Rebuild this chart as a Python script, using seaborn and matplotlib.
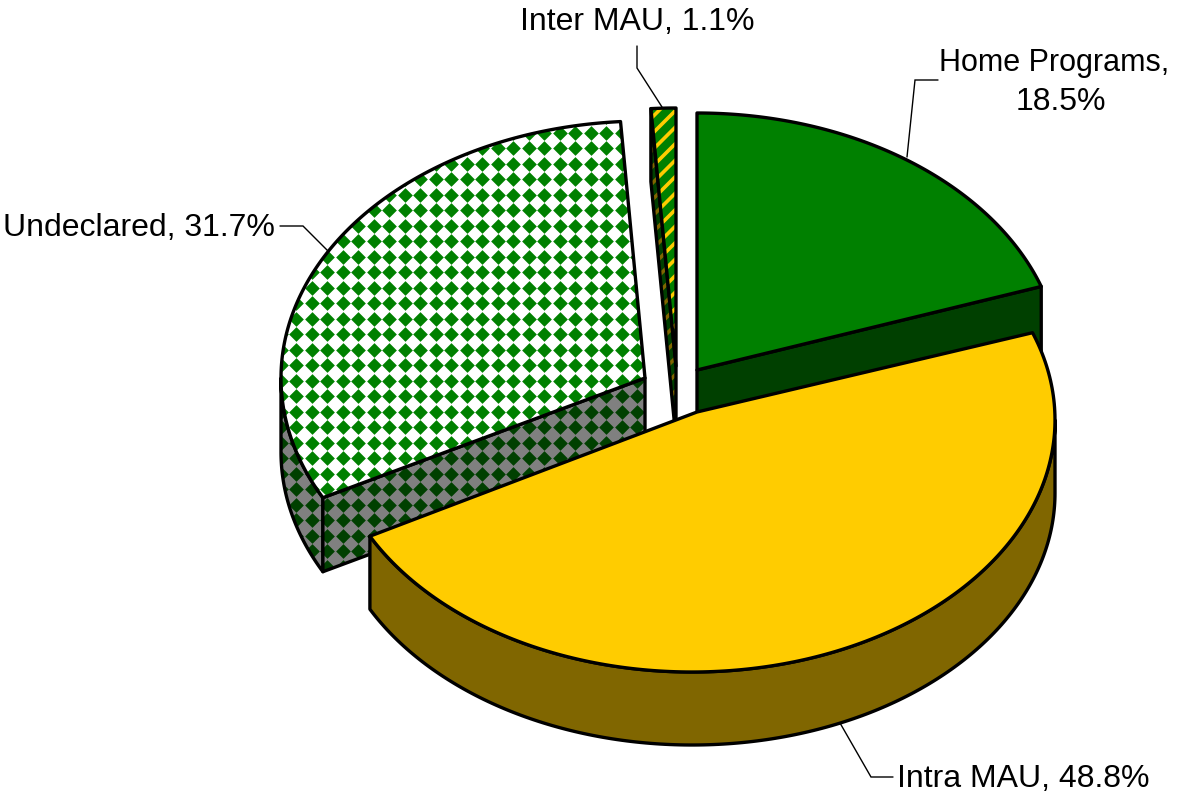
import numpy as np
import matplotlib
matplotlib.use("Agg")
import matplotlib.pyplot as plt
from matplotlib.collections import LineCollection
import seaborn as sns

# ---- data ----
categories = ["Home Programs", "Intra MAU", "Undeclared", "Inter MAU"]
shares = [18.5, 48.8, 31.7, 1.1]

# ---- style / layout (pixels of the 1183x794 canvas) ----
W, H = 1183, 794
top_colors = ["#008000", "#FFCC00", "#FFFFFF", "#008000"]
side_colors = ["#004000", "#806600", "#808080", "#004000"]
# rim ellipse of every slice: cx, cy, rx, ry; apex of the slice: vx, vy
rim = [(697, 370, 364, 257), (692, 420, 363, 252), (645, 378, 364, 257), (676, 366, 364, 258)]
apex = [(697, 370), (697, 412), (645, 378), (676, 366)]
# perspective correction of the slice boundaries (degrees)
shift_start = [0.0, 3.2, 0.2, 0.0]
shift_end = [4.5, 0.5, 0.1, 0.0]
depth = [73, 73, 74, 73]
LW = 2.4

sns.set_theme(style="white")
plt.rcParams["font.family"] = ["Liberation Sans", "DejaVu Sans"]

fig = plt.figure(figsize=(W / 100, H / 100), dpi=100)
ax = fig.add_axes([0, 0, 1, 1])
ax.set_xlim(0, W)
ax.set_ylim(H, 0)
ax.axis("off")

frac = np.array(shares) / sum(shares) * 360
ends = np.cumsum(frac)
starts = ends - frac
a0 = starts + np.array(shift_start)
a1 = ends + np.array(shift_end)


def arc(i, t0, t1, dy=0, n=200):
    cx, cy, rx, ry = rim[i]
    t = np.radians(np.linspace(t0, t1, n))
    return cx + rx * np.sin(t), cy - ry * np.cos(t) + dy


def diamonds(patch, color):
    gx = np.arange(405 - 15.5 * 30, W, 15.5)
    gy = np.arange(256.7 - 15.5 * 20, H, 15.5)
    X, Y = np.meshgrid(gx, gy)
    sc = ax.scatter(X.ravel(), Y.ravel(), marker="D", s=56, c=color, linewidths=0, zorder=patch.get_zorder())
    sc.set_clip_path(patch)
    return sc


def stripes(patch, color):
    # 45-degree stripes at a fixed pitch, clipped to the face
    offs = 786 + 16.5 * np.arange(-6, 30)
    segs = [[(o - 100, 100), (o - 500, 500)] for o in offs]
    lc = LineCollection(segs, colors=color, linewidths=2.6, zorder=patch.get_zorder())
    ax.add_collection(lc, autolim=False)
    lc.set_clip_path(patch)
    return lc


def outline(xs, ys, z):
    ax.fill(xs, ys, facecolor="none", edgecolor="black", linewidth=LW, joinstyle="round", zorder=z)


def top_face(i):
    x, y = arc(i, a0[i], a1[i])
    return np.r_[apex[i][0], x], np.r_[apex[i][1], y]


# Home Programs
i = 0
x, y = arc(i, a1[i], a1[i], n=1)
sx = [apex[i][0], x[0], x[0], apex[i][0]]
sy = [apex[i][1], y[0], y[0] + depth[i], apex[i][1] + depth[i]]
ax.fill(sx, sy, facecolor=side_colors[i], zorder=1)
outline(sx, sy, 1.1)
tx, ty = top_face(i)
ax.fill(tx, ty, facecolor=top_colors[i], zorder=1.2)
outline(tx, ty, 1.3)

# Inter MAU
i = 3
x, y = arc(i, a0[i], a0[i], n=1)
sx = [x[0], apex[i][0], apex[i][0], x[0]]
sy = [y[0], apex[i][1], apex[i][1] + depth[i], y[0] + depth[i]]
p = ax.fill(sx, sy, facecolor=side_colors[i], zorder=2)[0]
stripes(p, side_colors[1])
outline(sx, sy, 2.1)
tx, ty = top_face(i)
p = ax.fill(tx, ty, facecolor=top_colors[i], zorder=2.2)[0]
stripes(p, top_colors[1])
outline(tx, ty, 2.3)

# Undeclared
i = 2
ox, oy = arc(i, a0[i], 270)
ox2, oy2 = ox, oy + depth[i]
sx = np.r_[ox, ox2[::-1]]
sy = np.r_[oy, oy2[::-1]]
p = ax.fill(sx, sy, facecolor=side_colors[i], zorder=3)[0]
diamonds(p, side_colors[0])
outline(sx, sy, 3.1)
x, y = arc(i, a0[i], a0[i], n=1)
sx = [apex[i][0], x[0], x[0], apex[i][0]]
sy = [apex[i][1], y[0], y[0] + depth[i], apex[i][1] + depth[i]]
p = ax.fill(sx, sy, facecolor=side_colors[i], zorder=3.2)[0]
diamonds(p, side_colors[0])
outline(sx, sy, 3.3)
tx, ty = top_face(i)
p = ax.fill(tx, ty, facecolor=top_colors[i], zorder=3.4)[0]
diamonds(p, top_colors[0])
outline(tx, ty, 3.5)

# Intra MAU
i = 1
ox, oy = arc(i, 90, a1[i])
sx = np.r_[ox, ox[::-1]]
sy = np.r_[oy, oy[::-1] + depth[i]]
ax.fill(sx, sy, facecolor=side_colors[i], zorder=4)
outline(sx, sy, 4.1)
tx, ty = top_face(i)
ax.fill(tx, ty, facecolor=top_colors[i], zorder=4.2)
outline(tx, ty, 4.3)

# leader lines
leaders = [
    ([938, 915, 907], [80, 80, 157]),
    ([840, 871, 893], [723, 777, 777]),
    ([280, 303, 329], [226, 226, 252]),
    ([637, 637, 662], [46, 68, 107]),
]
for lx, ly in leaders:
    ax.plot(lx, ly, color="black", linewidth=1.0, zorder=0.5 if lx[0] != 840 else 5, solid_joinstyle="miter")

# labels
fs = 23
ax.text(1054.5, 63.5, f"{categories[0]},", ha="center", va="center", fontsize=22, color="black")
ax.text(1061, 102, f"{shares[0]}%", ha="center", va="center", fontsize=fs, color="black")
ax.text(897, 779, f"{categories[1]}, {shares[1]}%", ha="left", va="center", fontsize=fs, color="black")
ax.text(3, 228.5, f"{categories[2]}, {shares[2]}%", ha="left", va="center", fontsize=fs, color="black")
ax.text(520, 22.5, f"{categories[3]}, {shares[3]}%", ha="left", va="center", fontsize=fs, color="black")

fig.savefig("out.png", dpi=100, facecolor="white")
